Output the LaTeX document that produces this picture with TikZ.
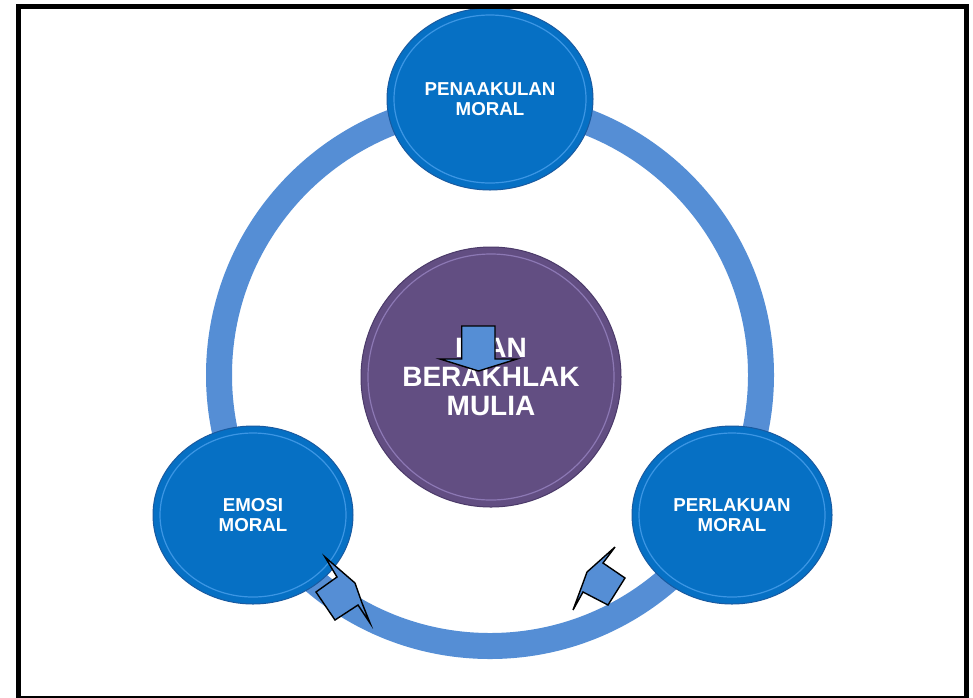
\documentclass[tikz,border=0pt]{standalone}
\usepackage{fontspec}
\setmainfont{Liberation Sans}
\usetikzlibrary{shapes.geometric}
\definecolor{nodeblue}{RGB}{6,112,196}
\definecolor{rimblue}{RGB}{60,150,228}
\definecolor{edgeblue}{RGB}{25,90,160}
\definecolor{ringblue}{RGB}{85,142,213}
\definecolor{mainpurple}{RGB}{98,78,130}
\definecolor{rimpurple}{RGB}{140,120,180}
\definecolor{edgepurple}{RGB}{75,58,105}
\begin{document}
\begin{tikzpicture}[x=1pt,y=-1pt,
  bluenode/.style={ellipse, fill=nodeblue, draw=edgeblue, line width=1pt, inner sep=0pt,
    minimum width=200pt, minimum height=178pt,
    text=white, font=\bfseries\fontsize{18.7}{20}\selectfont, align=center},
  goalnode/.style={circle, fill=mainpurple, draw=edgepurple, line width=1pt, inner sep=0pt,
    minimum size=260pt, text=white, font=\bfseries\fontsize{28}{29}\selectfont, align=center},
  ringline/.style={draw=ringblue, line width=26pt},
  bluerim/.style={draw=rimblue, line width=1.2pt},
  purplerim/.style={draw=rimpurple, line width=1.2pt},
  arrowshape/.style={fill=ringblue, draw=black, line width=1.4pt, line join=miter},
  frameline/.style={draw=black, line width=5pt}]
\useasboundingbox (0,0) rectangle (973,697);
\fill[white] (0,0) rectangle (973,697);
% ring
\coordinate (ringc) at (490,375);
\draw[ringline] (ringc) circle (271pt);
% centre
\node[goalnode] (goal) at (491,377) {IMAN\\BERAKHLAK\\MULIA};
\draw[purplerim] (goal.center) circle (123pt);
% outer nodes
\node[bluenode, minimum width=206pt, minimum height=182pt] (pen) at (490,99) {PENAAKULAN\\MORAL};
\draw[bluerim] (pen.center) ellipse [x radius=96pt, y radius=84pt];
\node[bluenode] (emo) at (253,515) {EMOSI\\MORAL};
\draw[bluerim] (emo.center) ellipse [x radius=93pt, y radius=82pt];
\node[bluenode] (per) at (732,515) {PERLAKUAN\\MORAL};
\draw[bluerim] (per.center) ellipse [x radius=93pt, y radius=82pt];
% centre arrow
\draw[arrowshape] (461.7,326) -- (495,326) -- (495,359) -- (517,359) -- (478.5,371)
  -- (440,359) -- (461.7,359) -- cycle;
% bottom arrows
\draw[arrowshape] (325,557) -- (355,583) -- (362,603) -- (370,623) -- (358,605)
  -- (335,620) -- (316,592) -- (337,577) -- cycle;
\draw[arrowshape] (615,547) -- (587,572) -- (583,583) -- (573,610) -- (583,592)
  -- (608,605) -- (625,578) -- (603,563) -- cycle;
% frame
\draw[frameline] (18.5,6.5) rectangle (966,698.5);
\end{tikzpicture}
\end{document}
